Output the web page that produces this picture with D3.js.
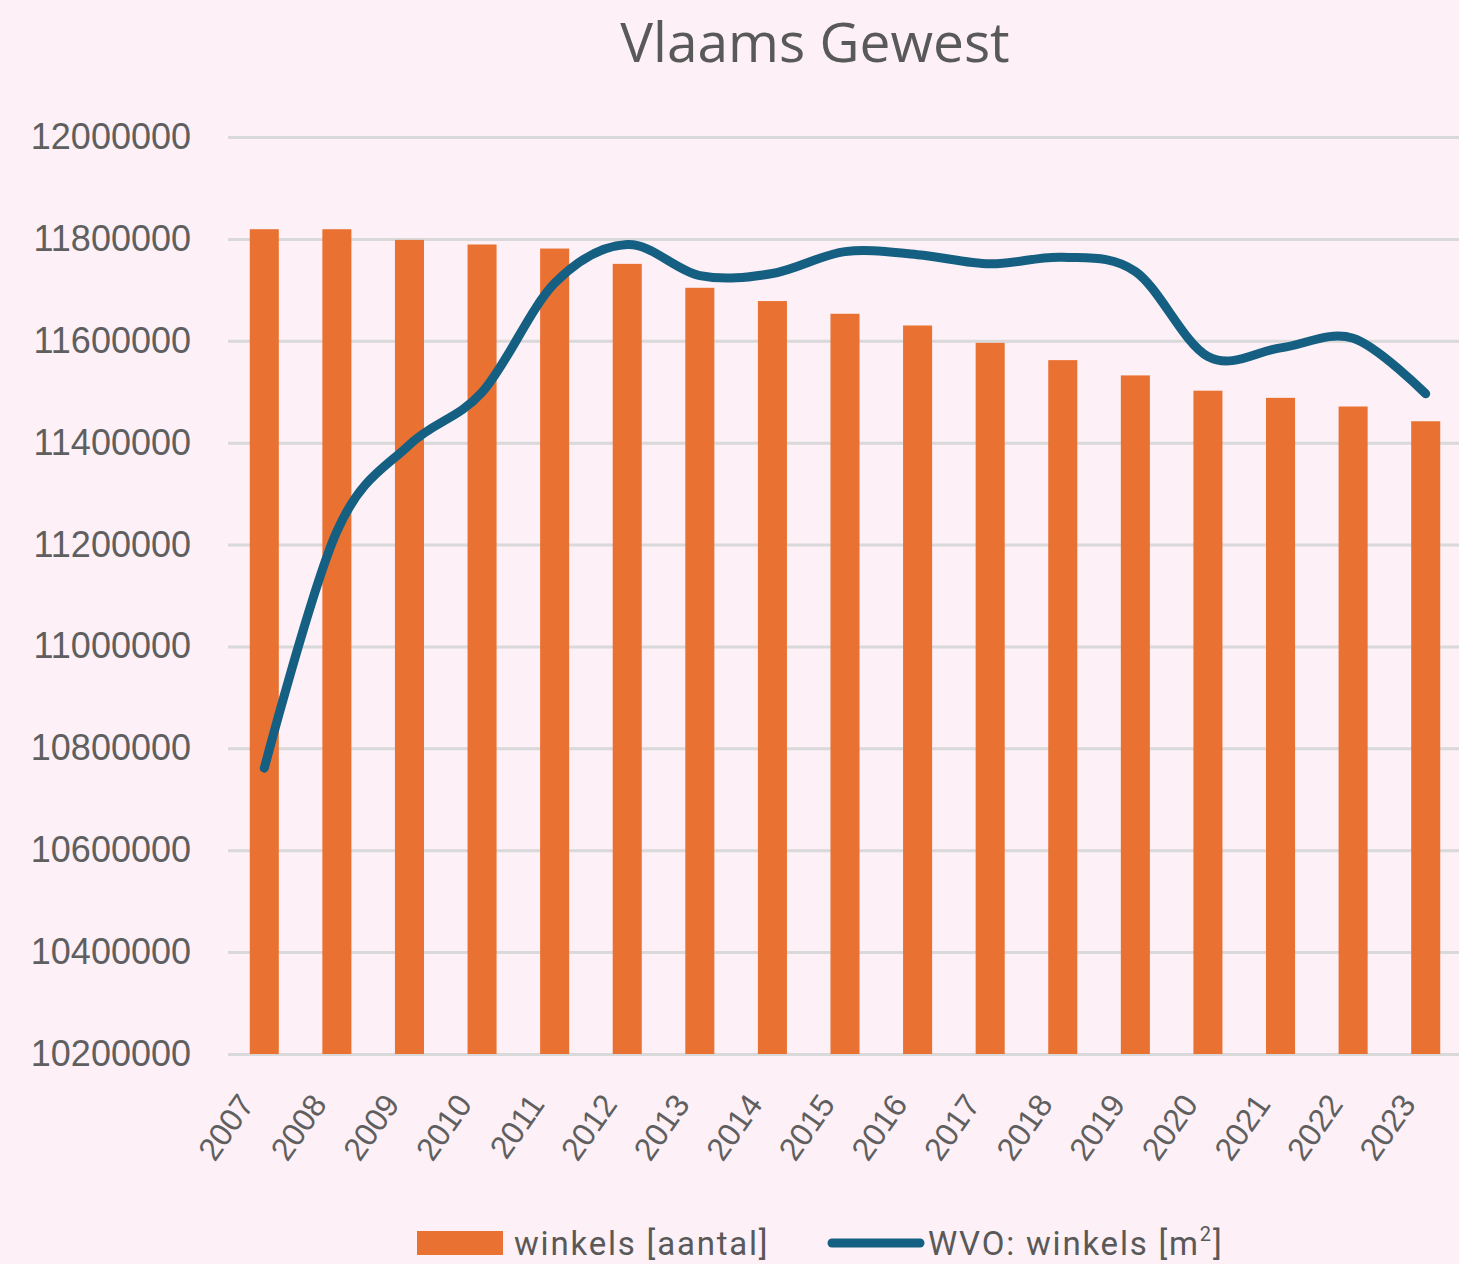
<!DOCTYPE html>
<html>
<head>
<meta charset="utf-8">
<script src="https://cdn.jsdelivr.net/npm/d3@7"></script>
<style>
  html, body { margin: 0; padding: 0; background: #fdf0f6; }
  svg { display: block; }
</style>
</head>
<body>
<div id="chart"></div>
<script>
// data
const years = ["2007", "2008", "2009", "2010", "2011", "2012", "2013", "2014", "2015",
               "2016", "2017", "2018", "2019", "2020", "2021", "2022", "2023"];
const winkelsAantal = [11819000, 11819000, 11798000, 11789000, 11781000, 11751000, 11704000, 11678000, 11653000,
                       11630000, 11596000, 11562000, 11532000, 11502000, 11488000, 11471000, 11442000];
const wvoWinkels = [10761000, 11226000, 11396000, 11499000, 11713000, 11789000, 11728000, 11732000, 11775000,
                    11769000, 11751000, 11764000, 11736000, 11569000, 11586000, 11605000, 11496000];
const yTicks = [10200000, 10400000, 10600000, 10800000, 11000000, 11200000, 11400000, 11600000, 11800000, 12000000];

const width = 1459, height = 1264;
const margin = { top: 137, right: -3, bottom: 210, left: 228 };

const svg = d3.select("#chart")
    .append("svg")
    .attr("width", width)
    .attr("height", height);

svg.append("rect")
    .attr("width", width)
    .attr("height", height)
    .attr("fill", "#fdf0f6");

const x = d3.scaleBand()
    .domain(years)
    .range([margin.left, width - margin.right])
    .paddingInner(0.6)
    .paddingOuter(0.3);

const y = d3.scaleLinear()
    .domain([10200000, 12000000])
    .range([height - margin.bottom, margin.top]);

// gridlines + y labels
const yAxis = svg.append("g")
    .attr("transform", `translate(${margin.left},0)`)
    .call(d3.axisLeft(y)
        .tickValues(yTicks)
        .tickFormat(d3.format("d"))
        .tickSize(-(width - margin.right - margin.left))
        .tickPadding(37));
yAxis.select(".domain").remove();
yAxis.selectAll(".tick line")
    .attr("stroke", "#d9d9d9")
    .attr("stroke-width", 3);
yAxis.selectAll(".tick text")
    .attr("fill", "#5f5f5f")
    .attr("font-family", "'Liberation Sans', Arial, sans-serif")
    .attr("font-size", "36px");

// bars
svg.selectAll(".bar")
    .data(years.map((d, i) => ({ year: d, value: winkelsAantal[i] })))
    .enter()
    .append("rect")
    .attr("class", "bar")
    .attr("x", d => x(d.year))
    .attr("y", d => y(d.value))
    .attr("width", x.bandwidth())
    .attr("height", d => y(10200000) - y(d.value))
    .attr("fill", "#e97132");

// smooth line
const line = d3.line()
    .x((d, i) => x(years[i]) + x.bandwidth() / 2)
    .y(d => y(d))
    .curve(d3.curveCardinal.tension(0));

svg.append("path")
    .datum(wvoWinkels)
    .attr("d", line)
    .attr("fill", "none")
    .attr("stroke", "#156082")
    .attr("stroke-width", 9)
    .attr("stroke-linecap", "round")
    .attr("stroke-linejoin", "round");

// x labels
const xAxis = svg.append("g")
    .attr("transform", `translate(0,${height - margin.bottom})`)
    .call(d3.axisBottom(x).tickSize(0).tickPadding(0));
xAxis.select(".domain").remove();
xAxis.selectAll(".tick text")
    .attr("fill", "#5f5f5f")
    .attr("font-family", "'Liberation Sans', Arial, sans-serif")
    .attr("font-size", "32px")
    .attr("text-anchor", "end")
    .attr("dy", "0.35em")
    .attr("transform", "translate(-18,44) rotate(-55)");

// title
svg.append("text")
    .attr("x", 815)
    .attr("y", 62)
    .attr("text-anchor", "middle")
    .attr("font-family", "'Open Sans', sans-serif")
    .attr("font-size", "55px")
    .attr("fill", "#595959")
    .text("Vlaams Gewest");

// legend
const legend = svg.append("g");
legend.append("rect")
    .attr("x", 417)
    .attr("y", 1231)
    .attr("width", 86)
    .attr("height", 24)
    .attr("fill", "#e97132");
legend.append("text")
    .attr("x", 514)
    .attr("y", 1255)
    .attr("font-family", "Roboto, sans-serif")
    .attr("font-size", "33px")
    .attr("letter-spacing", "1.8px")
    .attr("fill", "#595959")
    .text("winkels [aantal]");
legend.append("line")
    .attr("x1", 832)
    .attr("x2", 920)
    .attr("y1", 1243)
    .attr("y2", 1243)
    .attr("stroke", "#156082")
    .attr("stroke-width", 9)
    .attr("stroke-linecap", "round");
const lt = legend.append("text")
    .attr("x", 928)
    .attr("y", 1255)
    .attr("font-family", "Roboto, sans-serif")
    .attr("font-size", "33px")
    .attr("letter-spacing", "1.8px")
    .attr("fill", "#595959");
lt.append("tspan").text("WVO: winkels [m");
lt.append("tspan").attr("font-size", "20px").attr("dy", "-14").text("2");
lt.append("tspan").attr("dy", "14").text("]");
</script>
</body>
</html>
